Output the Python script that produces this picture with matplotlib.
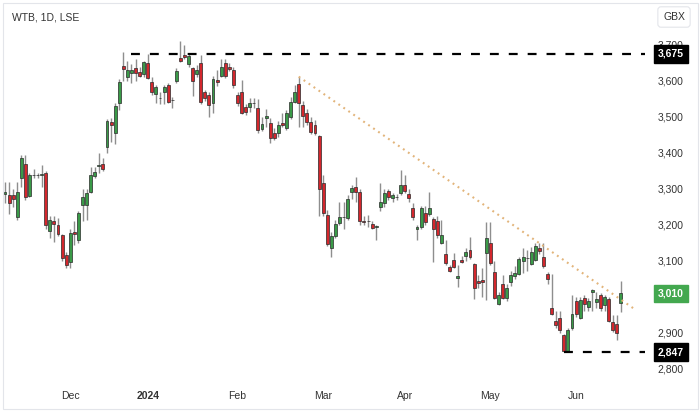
import numpy as np
import pandas as pd
import matplotlib
matplotlib.use("Agg")
import matplotlib.pyplot as plt
from matplotlib.patches import Rectangle
from matplotlib.transforms import blended_transform_factory

plt.rcParams['font.family'] = ['Liberation Sans', 'DejaVu Sans']

# WTB daily candles, 9 Nov 2023 - 18 Jun 2024 (LSE trading days)
uk_holidays = ['2023-12-25', '2023-12-26', '2024-01-01', '2024-03-29',
               '2024-04-01', '2024-05-06', '2024-05-27']
opens = [3285, 3283, 3282, 3222, 3331, 3370, 3281, 3338, 3340, 3340,
         3345, 3183, 3210, 3200, 3172, 3117, 3097, 3180, 3158, 3256,
         3256, 3292, 3336, 3365, 3370, 3417, 3486, 3456, 3539, 3642,
         3611, 3622, 3636, 3624, 3619, 3650, 3597, 3564, 3552, 3569,
         3588, 3546, 3600, 3664, 3672, 3647, 3636, 3619, 3650, 3570,
         3560, 3540, 3604, 3614, 3650, 3640, 3631, 3561, 3569, 3528,
         3528, 3540, 3525, 3467, 3497, 3483, 3456, 3456, 3484, 3469,
         3500, 3542, 3592, 3533, 3511, 3486, 3478, 3447, 3317, 3228,
         3136, 3169, 3206, 3221, 3219, 3292, 3306, 3292, 3212, 3210,
         3203, 3195, 3250, 3261, 3294, 3275, 3279, 3289, 3311, 3286,
         3247, 3189, 3194, 3233, 3231, 3217, 3211, 3150, 3120, 3082,
         3103, 3053, 3103, 3114, 3131, 3092, 3043, 3047, 3122, 3150,
         3069, 2981, 3036, 2997, 3042, 3058, 3064, 3100, 3108, 3092,
         3103, 3136, 3111, 3064, 2969, 2933, 2942, 2894, 2850, 2914,
         2989, 2942, 2997, 2972, 3014, 2986, 3006, 2978, 2994, 2931,
         2925, 2983]
highs = [3320, 3320, 3300, 3320, 3395, 3395, 3345, 3355, 3345, 3367,
         3350, 3225, 3225, 3220, 3175, 3125, 3190, 3210, 3240, 3300,
         3300, 3360, 3360, 3400, 3385, 3495, 3497, 3540, 3605, 3680,
         3655, 3648, 3660, 3640, 3655, 3675, 3610, 3590, 3570, 3590,
         3595, 3555, 3635, 3710, 3700, 3675, 3640, 3645, 3672, 3575,
         3570, 3615, 3630, 3660, 3662, 3650, 3640, 3570, 3603, 3535,
         3553, 3553, 3550, 3500, 3522, 3497, 3470, 3490, 3511, 3520,
         3555, 3589, 3612, 3545, 3522, 3500, 3492, 3450, 3339, 3242,
         3180, 3215, 3264, 3264, 3283, 3310, 3333, 3300, 3225, 3228,
         3210, 3200, 3317, 3300, 3300, 3290, 3286, 3353, 3339, 3300,
         3260, 3200, 3253, 3253, 3292, 3222, 3225, 3214, 3158, 3090,
         3122, 3089, 3115, 3136, 3167, 3095, 3060, 3080, 3208, 3208,
         3100, 3015, 3060, 3035, 3072, 3085, 3112, 3136, 3130, 3140,
         3150, 3150, 3150, 3070, 3064, 2960, 2960, 2898, 2915, 3006,
         3000, 3000, 3005, 2997, 3022, 3015, 3012, 3006, 3000, 2950,
         2950, 3045]
lows = [3260, 3230, 3250, 3215, 3305, 3270, 3278, 3330, 3330, 3305,
        3190, 3165, 3153, 3168, 3100, 3080, 3080, 3145, 3150, 3210,
        3215, 3290, 3330, 3345, 3350, 3400, 3430, 3425, 3520, 3600,
        3600, 3595, 3600, 3612, 3612, 3605, 3560, 3540, 3535, 3535,
        3540, 3525, 3595, 3652, 3660, 3640, 3558, 3610, 3535, 3545,
        3500, 3512, 3585, 3610, 3608, 3628, 3580, 3530, 3508, 3505,
        3515, 3525, 3455, 3462, 3472, 3428, 3435, 3445, 3472, 3465,
        3495, 3538, 3472, 3472, 3478, 3453, 3450, 3225, 3225, 3142,
        3111, 3165, 3200, 3189, 3214, 3272, 3264, 3200, 3200, 3195,
        3188, 3158, 3240, 3250, 3270, 3265, 3270, 3283, 3289, 3264,
        3214, 3158, 3189, 3200, 3225, 3097, 3165, 3147, 3089, 3069,
        3080, 3028, 3095, 3100, 3106, 2994, 3025, 3000, 2992, 3089,
        2994, 2978, 2994, 2990, 3030, 3050, 3060, 3067, 3072, 3090,
        3100, 3120, 3081, 3036, 2950, 2915, 2900, 2847, 2847, 2908,
        2945, 2938, 2960, 2960, 2960, 2970, 2960, 2960, 2930, 2903,
        2881, 2958]
closes = [3292, 3260, 3273, 3292, 3386, 3278, 3339, 3340, 3338, 3342,
          3200, 3214, 3203, 3175, 3108, 3088, 3178, 3176, 3233, 3278,
          3290, 3340, 3348, 3367, 3355, 3489, 3478, 3531, 3597, 3633,
          3631, 3631, 3622, 3614, 3653, 3608, 3570, 3583, 3554, 3583,
          3542, 3548, 3628, 3656, 3667, 3669, 3600, 3631, 3542, 3553,
          3532, 3606, 3596, 3639, 3614, 3632, 3589, 3540, 3511, 3514,
          3539, 3538, 3464, 3481, 3503, 3442, 3442, 3478, 3477, 3511,
          3542, 3569, 3539, 3503, 3486, 3458, 3456, 3300, 3233, 3147,
          3169, 3203, 3222, 3223, 3272, 3303, 3292, 3211, 3208, 3211,
          3192, 3197, 3264, 3289, 3278, 3283, 3277, 3311, 3294, 3275,
          3222, 3194, 3247, 3208, 3247, 3189, 3172, 3172, 3094, 3072,
          3083, 3058, 3097, 3125, 3111, 3025, 3039, 3042, 3164, 3094,
          2997, 3006, 2997, 3025, 3061, 3067, 3106, 3111, 3109, 3125,
          3142, 3128, 3086, 3050, 2953, 2922, 2908, 2850, 2908, 2953,
          2953, 2992, 2981, 2989, 3019, 2995, 2970, 3000, 2933, 2908,
          2900, 3010]

level_prices = [3675, 2847]
level_start = ['2023-12-22', '2024-05-29']
trend_dates = ['2024-02-22', '2024-06-21']
trend_prices = [3612, 2969]
month_labels = ['Dec', '2024', 'Feb', 'Mar', 'Apr', 'May', 'Jun']
price_ticks = [2800, 2900, 3100, 3200, 3300, 3400, 3500, 3600, 3700]

dates = pd.bdate_range('2023-11-09', '2024-06-18')
dates = dates[~dates.isin(pd.to_datetime(uk_holidays))]
n = len(dates)
idx = np.arange(n)


def date_to_idx(d):
    d = pd.Timestamp(d)
    if d <= dates[-1]:
        return float(dates.searchsorted(d))
    extra = len(pd.bdate_range(dates[-1], d)) - 1
    return float(n - 1 + extra)


o = np.array(opens, dtype=float)
h = np.array(highs, dtype=float)
l = np.array(lows, dtype=float)
c = np.array(closes, dtype=float)
up = c >= o

GREEN = '#3a9a48'
RED = '#d3272d'

fig = plt.figure(figsize=(7, 4.12), dpi=100)
ax = fig.add_axes([3 / 700, 32 / 412, 642 / 700, 375 / 412])

ax.vlines(idx, l, h, color='#8e8e8e', lw=1, zorder=2)
body_bottom = np.minimum(o, c)
body_height = np.maximum(np.abs(c - o), 1.5)
ax.bar(idx, body_height, bottom=body_bottom, width=0.72,
       color=np.where(up, GREEN, RED), edgecolor='#2a2a2a', lw=0.5, zorder=3)

x_right = 156.9
ax.set_xlim(-0.49, x_right)
ax.set_ylim(2769.4, 3811)

# support / resistance levels
for p, d in zip(level_prices, level_start):
    ax.hlines(p, date_to_idx(d), x_right, color='black', lw=1.6,
              linestyle=(0, (4, 4.5)), zorder=4)

# falling trendline
ax.plot([date_to_idx(d) for d in trend_dates], trend_prices, color='#e2b47a',
        lw=1.5, linestyle=(0, (0.9, 2.0)), zorder=4)

# month ticks
month_starts = pd.Series(idx, index=dates).groupby(dates.to_period('M')).first()
month_pos = month_starts.values[1:]
ax.set_xticks(month_pos)
ax.set_xticklabels(month_labels, fontsize=7.5, color='#333333')
ax.get_xticklabels()[1].set_fontweight('bold')
ax.tick_params(axis='x', length=0, pad=8)

ax.yaxis.tick_right()
ax.set_yticks(price_ticks)
ax.set_yticklabels([f"{t:,}" for t in price_ticks], fontsize=7.5, color='#333333')
ax.tick_params(axis='y', length=0, pad=9)

for s in ax.spines.values():
    s.set_visible(False)

# price labels on the axis
trans = blended_transform_factory(ax.transAxes, ax.transData)
for p, fc in [(level_prices[0], 'black'), (closes[-1], '#43a84f'),
              (level_prices[1], 'black')]:
    ax.text(1.0405, p, f"{p:,}", transform=trans, ha='center', va='center',
            fontsize=7.5, color='white', fontweight='bold', clip_on=False,
            zorder=10,
            bbox=dict(boxstyle='square,pad=0.35', fc=fc, ec=fc))

fig.text(12 / 700, 1 - 17 / 412, 'WTB, 1D, LSE', fontsize=7.5, color='#333333',
         va='center', ha='left')
fig.text(674 / 700, 1 - 17 / 412, 'GBX', fontsize=7.5, color='#333333',
         va='center', ha='center',
         bbox=dict(boxstyle='round,pad=0.5,rounding_size=0.3', fc='white',
                   ec='#e3e5ea', lw=0.8))

fig.patches.append(Rectangle((2.5 / 700, 3.5 / 412), 695 / 700, 406 / 412,
                             transform=fig.transFigure, fill=False,
                             ec='#e3e5ea', lw=0.8))

fig.savefig('out.png', dpi=100)
